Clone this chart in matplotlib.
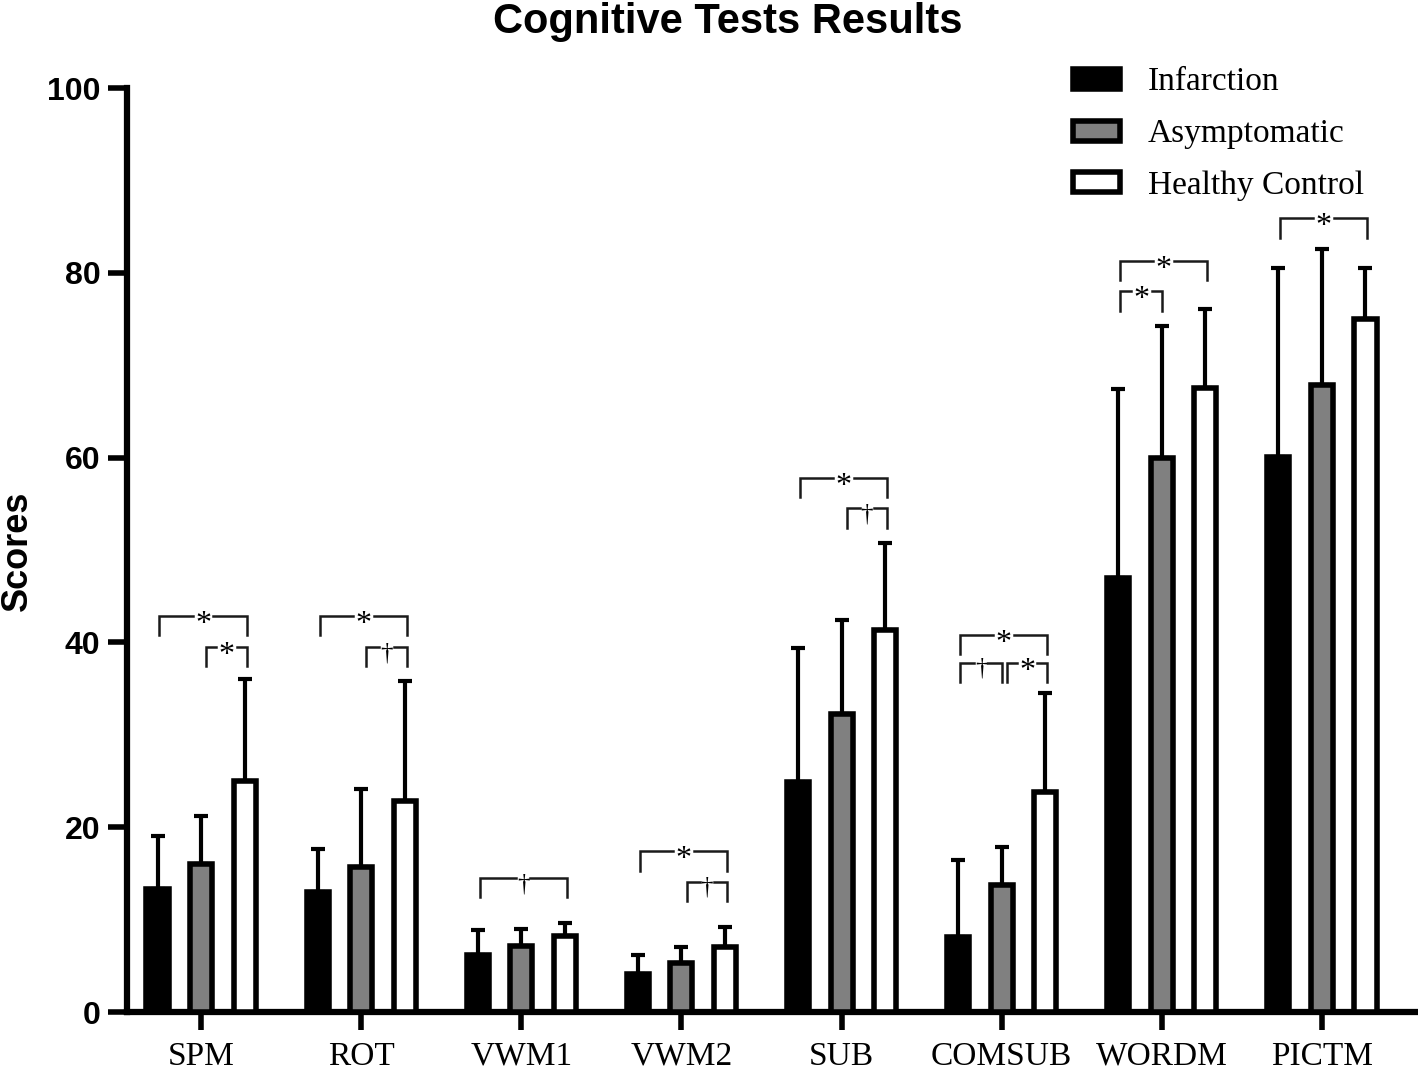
import numpy as np
import matplotlib
matplotlib.use("Agg")
import matplotlib.pyplot as plt
from matplotlib.patches import Patch

tests = ["SPM", "ROT", "VWM1", "VWM2", "SUB", "COMSUB", "WORDM", "PICTM"]
groups = ["Infarction", "Asymptomatic", "Healthy Control"]

infarct_mean = [13.3, 13.0, 6.2, 4.1, 24.9, 8.1, 47.0, 60.1]
asympt_mean = [16.0, 15.7, 7.1, 5.3, 32.3, 13.7, 60.0, 67.9]
healthy_mean = [25.0, 22.8, 8.2, 7.0, 41.3, 23.8, 67.5, 75.0]

infarct_sd = [5.7, 4.6, 2.7, 2.1, 14.5, 8.4, 20.4, 20.4]
asympt_sd = [5.2, 8.4, 1.9, 1.7, 10.1, 4.2, 14.2, 14.7]
healthy_sd = [11.0, 13.0, 1.4, 2.2, 9.5, 10.7, 8.6, 5.5]

# significance brackets: (test index, group a, group b, bracket height, mark)
sig = [
    (0, 0, 2, 42.9, "*"), (0, 1, 2, 39.5, "*"),
    (1, 0, 2, 42.9, "*"), (1, 1, 2, 39.5, "\u2020"),
    (2, 0, 2, 14.5, "\u2020"),
    (3, 0, 2, 17.4, "*"), (3, 1, 2, 14.1, "\u2020"),
    (4, 0, 2, 57.8, "*"), (4, 1, 2, 54.5, "\u2020"),
    (5, 0, 2, 40.8, "*"), (5, 0, 1, 37.8, "\u2020"), (5, 1, 2, 37.8, "*"),
    (6, 0, 2, 81.3, "*"), (6, 0, 1, 78.0, "*"),
    (7, 0, 2, 85.9, "*"),
]

means = [infarct_mean, asympt_mean, healthy_mean]
sds = [infarct_sd, asympt_sd, healthy_sd]
faces = ["black", "#808080", "white"]

SANS = "Liberation Sans"
SERIF = "Liberation Serif"

fig = plt.figure(figsize=(14.18, 10.69), dpi=100)
ax = fig.add_axes([127 / 1418, 57 / 1069, 1 - 127 / 1418, 924 / 1069])

x = np.arange(len(tests))
step = 0.272
w = 0.138
for i, (m, s, fc) in enumerate(zip(means, sds, faces)):
    xs = x + (i - 1) * step
    ax.errorbar(xs, m, yerr=[np.zeros(len(m)), s], fmt="none", ecolor="black",
                elinewidth=3, capsize=5, capthick=3, zorder=2)
    ax.bar(xs, m, width=w, color=fc, edgecolor="black", linewidth=4, zorder=3)

# brackets: top line split around the mark
leg = 2.1
for t, a, b, y, mark in sig:
    x0 = t + (a - 1) * step + 0.012
    x1 = t + (b - 1) * step + 0.012
    if b - a == 1:
        x0 += 0.02 if a == 1 else 0
        x1 -= 0.01 if b == 1 else 0
    xm = (x0 + x1) / 2
    gap = 0.065 if mark == "*" else 0.045
    kw = dict(color="#1a1a1a", lw=1.8, zorder=4, solid_joinstyle="miter")
    ax.plot([x0, x0, xm - gap], [y - leg, y, y], **kw)
    ax.plot([xm + gap, x1, x1], [y, y, y - leg], **kw)
    if mark == "*":
        ax.text(xm, y - 1.75, mark, ha="center", va="baseline", fontsize=23,
                family=SERIF, zorder=5)
    else:
        ax.text(xm, y - 1.3, mark, ha="center", va="baseline", fontsize=18,
                family=SERIF, zorder=5)

ax.set_xlim(-0.4625, 7.6)
ax.set_ylim(0, 100)
ax.set_yticks([0, 20, 40, 60, 80, 100])
ax.set_xticks(x)
ax.set_xticklabels(tests, family=SERIF, fontsize=24)
for lab in ax.get_yticklabels():
    lab.set_family(SANS)
    lab.set_fontweight("bold")
    lab.set_fontsize(23)
ax.tick_params(axis="y", length=14, width=4, pad=5)
ax.tick_params(axis="x", length=13, width=4, pad=8)
for side in ("top", "right"):
    ax.spines[side].set_visible(False)
for side in ("left", "bottom"):
    ax.spines[side].set_linewidth(4.5)
ax.spines["left"].set_capstyle("projecting")

fig.text(17 / 1418, 1 - 551 / 1069, "Scores", rotation=90, ha="center", va="center",
         family=SANS, fontweight="bold", fontsize=26)
fig.text(728 / 1418, 1 - 33 / 1069, "Cognitive Tests Results", ha="center",
         va="baseline", family=SANS, fontweight="bold", fontsize=30)

handles = [Patch(facecolor=fc, edgecolor="black", linewidth=4) for fc in faces]
fig.legend(handles, groups, loc="upper left", bbox_to_anchor=(1073 / 1418, 1 - 67 / 1069),
           frameon=False, borderpad=0, borderaxespad=0, handlelength=1.4,
           handleheight=0.55, handletextpad=0.85, labelspacing=0.64,
           prop=dict(family=SERIF, size=24))

fig.savefig("out.png", dpi=100)
